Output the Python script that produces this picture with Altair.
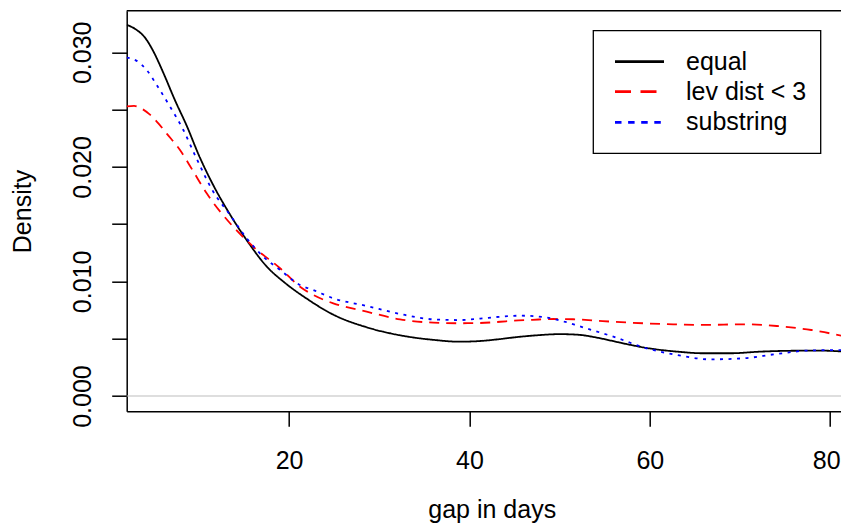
import altair as alt
import pandas as pd

# ---------------- data ----------------
series_names = ["equal", "lev dist < 3", "substring"]
series_colors = ["black", "red", "blue"]

equal_x = [1.99, 3.0, 4.0, 5.0, 6.0, 7.35, 8.64, 10.0, 11.59, 13.4, 15.3, 17.52, 19.5,
           21.95, 24.9, 28.6, 32.3, 36.0, 38.95, 41.17, 43.4, 45.0, 47.5, 50.0, 52.0,
           54.1, 56.0, 57.8, 59.6, 61.13, 63.35, 65.93, 69.0, 72.2, 75.9, 79.0, 82.07]
equal_y = [0.0324, 0.0320, 0.0313, 0.0300, 0.0283, 0.0258, 0.0236, 0.0210, 0.0184, 0.0159,
           0.0136, 0.0113, 0.0099, 0.0085, 0.0071, 0.0060, 0.0053, 0.0049, 0.00474, 0.0048,
           0.00497, 0.00512, 0.0053, 0.0054, 0.00535, 0.0051, 0.00478, 0.00447, 0.0042,
           0.00403, 0.00385, 0.00373, 0.00373, 0.00387, 0.00395, 0.00396, 0.00384]

lev_x = [1.99, 2.8, 3.6, 4.5, 5.5, 6.43, 7.9, 9.3, 10.86, 13.45, 16.03, 19.0, 21.21, 22.68,
         24.9, 28.6, 32.3, 36.0, 38.95, 41.17, 43.4, 44.86, 47.0, 49.3, 51.5, 54.1, 57.8,
         62.6, 65.93, 70.37, 74.07, 77.9, 82.07]
lev_y = [0.02527, 0.02532, 0.0251, 0.0246, 0.0238, 0.0229, 0.02147, 0.0197, 0.01769,
         0.01508, 0.01303, 0.01115, 0.00954, 0.00882, 0.00809, 0.00736, 0.00669, 0.0064,
         0.00635, 0.00637, 0.00648, 0.00657, 0.00665, 0.00672, 0.0067, 0.00657, 0.0064,
         0.00626, 0.0062, 0.00626, 0.00611, 0.00576, 0.00512]

sub_x = [1.99, 3.1, 4.21, 5.32, 6.8, 8.27, 9.75, 11.59, 13.45, 15.3, 17.14, 19.0, 21.21,
         22.68, 24.9, 28.6, 32.3, 36.0, 38.95, 41.17, 43.4, 45.6, 48.56, 50.5, 52.26,
         55.95, 59.65, 61.13, 62.98, 66.7, 70.37, 74.07, 77.9, 81.6, 82.07]
sub_y = [0.02953, 0.02925, 0.02845, 0.02714, 0.02525, 0.02322, 0.0207, 0.01783, 0.0158,
         0.01376, 0.01216, 0.011, 0.00969, 0.00925, 0.00853, 0.00786, 0.00716, 0.00669,
         0.00663, 0.00676, 0.00692, 0.00701, 0.00685, 0.0065, 0.00607, 0.00518, 0.00416,
         0.00387, 0.00358, 0.0032, 0.00329, 0.00367, 0.00398, 0.00401, 0.004]

x_ticks = [20, 40, 60, 80]
y_ticks = [0.0, 0.005, 0.010, 0.015, 0.020, 0.025, 0.030]

rows = []
for name, xs, ys in zip(series_names, [equal_x, lev_x, sub_x], [equal_y, lev_y, sub_y]):
    for xv, yv in zip(xs, ys):
        rows.append({"series": name, "gap": xv, "density": yv})
df = pd.DataFrame(rows)

# ---------------- layout / style ----------------
PAD_L, PAD_T = 118.7, 2.7
SVG_W, SVG_H = 833, 516
W = SVG_W - PAD_L
H = 400.6
PAD_B = SVG_H - PAD_T - H
FONT = "Liberation Sans"
FS = 25
PX_PER_UNIT = 9.018

x_lo = 1.99
x_scale = alt.Scale(domain=[x_lo, x_lo + W / PX_PER_UNIT], nice=False, zero=False)
y_scale = alt.Scale(domain=[-0.001335, 0.03363], nice=False, zero=False)

common_axis = dict(
    grid=False, tickSize=15, labelFontSize=FS, labelFont=FONT, labelColor="black",
    labelFlush=False, labelOverlap=False, domainColor="black", domainWidth=1.5,
    tickColor="black", tickWidth=1.5, titleFont=FONT, titleFontSize=FS,
    titleFontWeight="normal", titleColor="black",
)

x_axis = alt.Axis(
    values=x_ticks, title="gap in days", labelPadding=42, labelBaseline="alphabetic",
    labelOffset={"condition": {"test": "datum.value == 80", "value": -4}, "value": 0},
    titleX=365, titleY=106.5, titleBaseline="alphabetic", titleAlign="center",
    **common_axis,
)
y_axis = alt.Axis(
    values=y_ticks,
    labelExpr="round(datum.value*1000) % 10 == 0 ? format(datum.value, '.3f') : ''",
    title="Density", labelPadding=21, labelAngle=270, labelAlign="center",
    labelBaseline="alphabetic", titleAngle=270, titleX=-95.8, titleY=200.3,
    titleBaseline="alphabetic", titleAlign="center",
    **common_axis,
)

lines = alt.Chart(df).mark_line(
    clip=True, interpolate="monotone", strokeWidth=1.8, strokeCap="butt"
).encode(
    x=alt.X("gap:Q", scale=x_scale, axis=x_axis),
    y=alt.Y("density:Q", scale=y_scale, axis=y_axis),
    color=alt.Color("series:N", scale=alt.Scale(domain=series_names, range=series_colors), legend=None),
    strokeDash=alt.StrokeDash(
        "series:N",
        scale=alt.Scale(domain=series_names, range=[[1, 0], [10, 7], [3, 5.5]]),
        legend=None,
    ),
)

zero = alt.Chart(pd.DataFrame({"density": [0.0]})).mark_rule(
    color="#BEBEBE", strokeWidth=1.2
).encode(y=alt.Y("density:Q", scale=y_scale))

one = pd.DataFrame({"k": [0]})
top_border = alt.Chart(one).mark_rule(color="black", strokeWidth=1.5).encode(
    x=alt.value(0), x2=alt.value(W), y=alt.value(0)
)

# legend (drawn by hand, R style)
legend_box = alt.Chart(one).mark_rect(fill="white", stroke="black", strokeWidth=1.3).encode(
    x=alt.value(466.6), x2=alt.value(694), y=alt.value(20), y2=alt.value(142.6)
)
legend_y = [51, 81, 111.6]
legend_dash = [[1, 0], [16, 9.5], [6.5, 6.6]]
legend_layers = []
for name, col, ly, dash in zip(series_names, series_colors, legend_y, legend_dash):
    legend_layers.append(
        alt.Chart(one).mark_rule(color=col, strokeWidth=2.7, strokeDash=dash, strokeCap="butt").encode(
            x=alt.value(488.3), x2=alt.value(537.3), y=alt.value(ly)
        )
    )
    legend_layers.append(
        alt.Chart(one).mark_text(
            text=name, font=FONT, fontSize=FS, align="left", baseline="middle", color="black"
        ).encode(x=alt.value(559.3), y=alt.value(ly))
    )

chart = alt.layer(zero, lines, top_border, legend_box, *legend_layers).properties(
    width=W,
    height=H,
    padding={"left": PAD_L, "top": PAD_T, "right": 0, "bottom": PAD_B},
    autosize=alt.AutoSizeParams(type="none"),
    background="white",
).configure_view(stroke="transparent")

chart.save("out.html", embed_options={"renderer": "svg", "actions": False})
